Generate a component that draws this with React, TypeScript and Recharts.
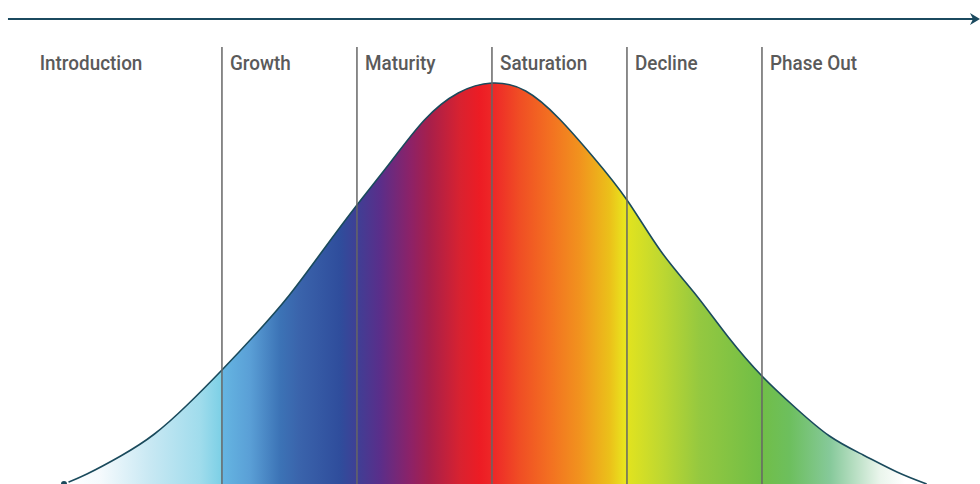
import { ComposedChart, Area, XAxis, YAxis, ReferenceLine } from "recharts";

// x in phase units (boundary lines at 1..5), y = height of curve in px above the bottom
const stage = [-0.17, 0, 0.25, 0.5, 0.75, 1, 1.25, 1.5, 1.75, 2, 2.25, 2.5, 2.75, 3, 3.25, 3.5, 3.75, 4, 4.25, 4.5, 4.75, 5, 5.25, 5.5, 5.75, 6, 6.22];
const volume = [0, 10, 28, 50, 80, 114, 150, 189, 234, 279, 322, 364, 391, 401, 393, 365, 327, 284, 233, 191, 147, 108, 76, 48, 29, 12, 0];

const phases = ["Introduction", "Growth", "Maturity", "Saturation", "Decline", "Phase Out"];
const phaseStart = [-0.35, 1, 2, 3, 4, 5];

// colour across the page, position in px
const gradPos = [64, 100, 150, 200, 221, 223, 250, 280, 300, 340, 357, 380, 410, 430, 460, 480, 495, 520, 550, 580, 610, 625, 630, 660, 700, 760, 790, 830, 860, 880, 905];
const gradColor = ["#ffffff", "#f5fafd", "#c8e8f3", "#a0dcec", "#7dd0e6", "#65b5e2", "#5a9fd6", "#3c73b6", "#3a63ab", "#2f4d9c", "#3f3f95", "#5a2e8a", "#8c2268", "#a81f4a", "#d82230", "#ed1c24", "#ee2a28", "#f04e24", "#f37021", "#f1931e", "#ebc11a", "#e9e51e", "#dfe220", "#c0d830", "#94c840", "#71be46", "#6dbf5e", "#86c99a", "#c2e3cb", "#eaf5ec", "#ffffff"];

const data = stage.map((u, i) => ({ u, v: volume[i] }));

const W = 980;
const H = 484;

function Arrow(p: any) {
  const { x1, y1, x2 } = p;
  const y = y1;
  return (
    <g>
      <line x1={x1} y1={y} x2={x2 - 6} y2={y} stroke="#1b4a5f" strokeWidth={2} />
      <path d={`M${x2 - 10},${y - 6} L${x2},${y} L${x2 - 10},${y + 6} L${x2 - 7},${y} Z`} fill="#1b4a5f" />
    </g>
  );
}

export default function App() {
  return (
    <div style={{ position: "absolute", left: 0, top: 0, width: W, height: H, background: "#fff" }}>
      <ComposedChart width={W} height={H} data={data} margin={{ top: 0, right: 0, bottom: 0, left: 0 }}>
        <defs>
          <linearGradient id="plc" gradientUnits="userSpaceOnUse" x1={0} y1={0} x2={W} y2={0}>
            {gradPos.map((p, i) => (
              <stop key={i} offset={p / W} stopColor={gradColor[i]} />
            ))}
          </linearGradient>
        </defs>
        <XAxis dataKey="u" type="number" domain={[-0.644, 6.615]} hide allowDataOverflow />
        <YAxis type="number" domain={[0, 484]} hide allowDataOverflow />
        <Area
          type="natural"
          dataKey="v"
          fill="url(#plc)"
          fillOpacity={1}
          stroke="#1a4a5c"
          strokeWidth={1.6}
          isAnimationActive={false}
        />
        {phases.map((name, i) => (
          <ReferenceLine
            key={name}
            segment={[{ x: phaseStart[i], y: 437 }, { x: phaseStart[i], y: 0 }]}
            stroke={i === 0 ? "none" : "#666"}
            strokeWidth={1.5}
            ifOverflow="visible"
            label={(lp: any) => {
              const tx = lp.viewBox.x + (i === 0 ? 0 : 8);
              const ty = lp.viewBox.y + 23;
              return (
                <text
                  x={0}
                  y={0}
                  transform={`translate(${tx},${ty}) scale(0.9,1)`}
                  fill="#5a5a5a"
                  fontFamily="Roboto, sans-serif"
                  fontWeight={500}
                  fontSize={21}
                >
                  {name}
                </text>
              );
            }}
          />
        ))}
        <ReferenceLine
          segment={[{ x: -0.585, y: 465 }, { x: 6.615, y: 465 }]}
          ifOverflow="visible"
          shape={Arrow}
        />
      </ComposedChart>
    </div>
  );
}
